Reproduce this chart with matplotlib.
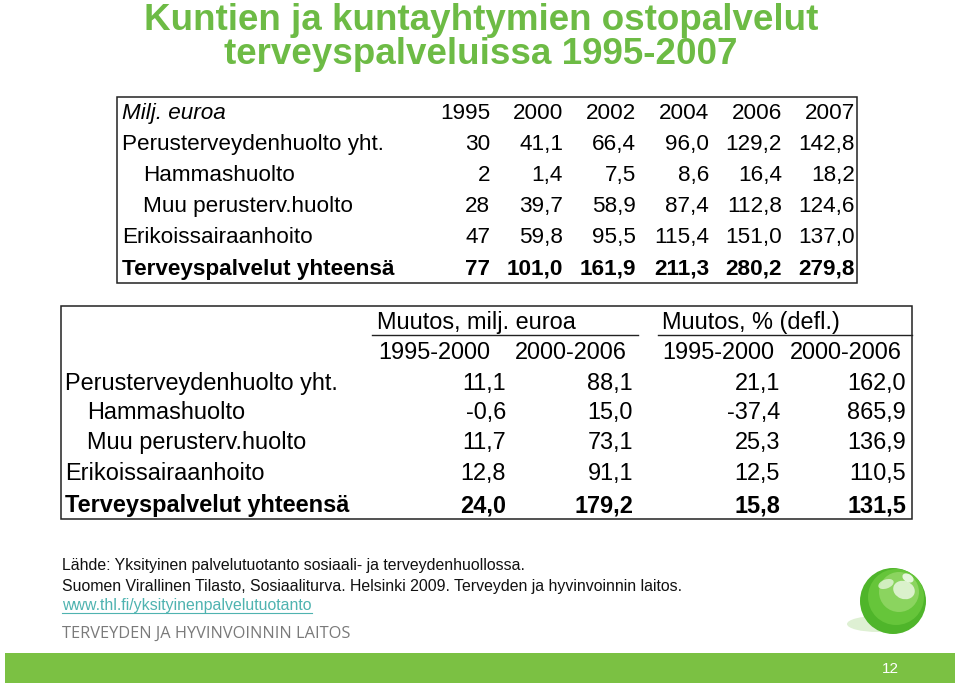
import matplotlib
matplotlib.use("Agg")
import matplotlib.pyplot as plt
from matplotlib.patches import Rectangle, Circle, Ellipse

plt.rcParams['font.family'] = ['Liberation Sans', 'DejaVu Sans']

# ---------------- data ----------------
title_lines = ["Kuntien ja kuntayhtymien ostopalvelut", "terveyspalveluissa 1995-2007"]

t1_header = "Milj. euroa"
years = ["1995", "2000", "2002", "2004", "2006", "2007"]
year_decimals = [0, 1, 1, 1, 1, 1]
categories = ["Perusterveydenhuolto yht.", "Hammashuolto", "Muu perusterv.huolto",
              "Erikoissairaanhoito", "Terveyspalvelut yhteensä"]
cat_indent = [False, True, True, False, False]
cat_bold = [False, False, False, False, True]
v_perus = [30, 41.1, 66.4, 96.0, 129.2, 142.8]
v_hammas = [2, 1.4, 7.5, 8.6, 16.4, 18.2]
v_muu = [28, 39.7, 58.9, 87.4, 112.8, 124.6]
v_erik = [47, 59.8, 95.5, 115.4, 151.0, 137.0]
v_total = [77, 101.0, 161.9, 211.3, 280.2, 279.8]
t1_values = [v_perus, v_hammas, v_muu, v_erik, v_total]

group_headers = ["Muutos, milj. euroa", "Muutos, % (defl.)"]
periods = ["1995-2000", "2000-2006", "1995-2000", "2000-2006"]
c_perus = [11.1, 88.1, 21.1, 162.0]
c_hammas = [-0.6, 15.0, -37.4, 865.9]
c_muu = [11.7, 73.1, 25.3, 136.9]
c_erik = [12.8, 91.1, 12.5, 110.5]
c_total = [24.0, 179.2, 15.8, 131.5]
t2_values = [c_perus, c_hammas, c_muu, c_erik, c_total]

source_lines = ["Lähde: Yksityinen palvelutuotanto sosiaali- ja terveydenhuollossa.",
                "Suomen Virallinen Tilasto, Sosiaaliturva. Helsinki 2009. Terveyden ja hyvinvoinnin laitos."]
link_text = "www.thl.fi/yksityinenpalvelutuotanto"
org_text = "TERVEYDEN JA HYVINVOINNIN LAITOS"
page_no = "12"


def fmt(v, d):
    s = f"{v:.{d}f}"
    return s.replace(".", ",")


# ---------------- figure ----------------
fig = plt.figure(figsize=(9.6, 6.86), dpi=100)
ax = fig.add_axes([0, 0, 1, 1])
ax.set_xlim(0, 960)
ax.set_ylim(686, 0)
ax.axis("off")

GREEN = "#6dbb45"

# Title
title_base = [29.5, 64]
for i, line in enumerate(title_lines):
    ax.text(481, title_base[i], line, ha="center", va="baseline", fontsize=26.5,
            fontweight="bold", color=GREEN)

# ---------------- table 1 ----------------
ax.add_patch(Rectangle((117, 97), 740, 186, fill=False, ec="#222222", lw=1.1))
fs1 = 16.2
row_y1 = [119, 150, 181, 212, 243, 275]
col_r1 = [490, 563, 636, 709, 782, 855]
ax.text(122, row_y1[0], t1_header, ha="left", va="baseline", fontsize=fs1, style="italic")
for j, yr in enumerate(years):
    ax.text(col_r1[j], row_y1[0], yr, ha="right", va="baseline", fontsize=fs1)
for i, cat in enumerate(categories):
    y = row_y1[i + 1]
    fw = "bold" if cat_bold[i] else "normal"
    ax.text(143 if cat_indent[i] else 122, y, cat, ha="left", va="baseline",
            fontsize=fs1, fontweight=fw)
    for j, v in enumerate(t1_values[i]):
        ax.text(col_r1[j], y, fmt(v, year_decimals[j]), ha="right", va="baseline",
                fontsize=fs1, fontweight=fw)

# ---------------- table 2 ----------------
ax.add_patch(Rectangle((61, 306), 851, 213, fill=False, ec="#222222", lw=1.1))
fs2 = 16.9
row_y2 = [329, 359, 390, 419, 449, 480, 512]
ax.text(377, row_y2[0], group_headers[0], ha="left", va="baseline", fontsize=fs2)
ax.text(662, row_y2[0], group_headers[1], ha="left", va="baseline", fontsize=fs2)
ax.plot([372, 638], [335, 335], color="#222222", lw=1.0)
ax.plot([658, 912], [335, 335], color="#222222", lw=1.0)
per_l = [378, 515, 662, 790]
col_r2 = [506, 633, 780, 906]
for j, p in enumerate(periods):
    ax.text(per_l[j], row_y2[1], p, ha="left", va="baseline", fontsize=fs2)
for i, cat in enumerate(categories):
    y = row_y2[i + 2]
    fw = "bold" if cat_bold[i] else "normal"
    ax.text(87 if cat_indent[i] else 65, y, cat, ha="left", va="baseline",
            fontsize=fs2, fontweight=fw)
    for j, v in enumerate(t2_values[i]):
        ax.text(col_r2[j], y, fmt(v, 1), ha="right", va="baseline",
                fontsize=fs2, fontweight=fw)

# ---------------- footer ----------------
src_base = [570, 590.5]
for i, line in enumerate(source_lines):
    ax.text(62, src_base[i], line, ha="left", va="baseline", fontsize=11.4, color="#111111")
lt = ax.text(62, 610, link_text, ha="left", va="baseline", fontsize=11.4, color="#4fb3b0")
fig.canvas.draw()
bb = lt.get_window_extent()
ax.plot([bb.x0, bb.x1], [613, 613], color="#4fb3b0", lw=0.8)
ax.text(62, 638, org_text, ha="left", va="baseline", fontsize=11.8, color="#7a7a7a",
        family=["Open Sans", "DejaVu Sans"])

# green band
ax.add_patch(Rectangle((5, 653), 950, 30, color="#7bc143", lw=0))
ax.text(890, 673, page_no, ha="center", va="baseline", fontsize=11, color="white")

# logo sphere
ax.add_patch(Ellipse((878, 624), 62, 16, color="#d6edc8", lw=0, alpha=0.8))
ax.add_patch(Circle((893, 601), 33, color="#4fb52a", lw=0))
ax.add_patch(Circle((896, 597), 28, color="#66c53a", lw=0))
ax.add_patch(Circle((899, 592), 20, color="#8bd45f", lw=0))
ax.add_patch(Ellipse((904, 590), 22, 18, angle=20, color="#e4f5d8", lw=0, alpha=0.9))
ax.add_patch(Ellipse((886, 584), 16, 9, angle=-20, color="#e4f5d8", lw=0, alpha=0.8))
ax.add_patch(Ellipse((908, 578), 12, 8, angle=30, color="#f0faea", lw=0, alpha=0.9))

fig.savefig("out.png", dpi=100)
